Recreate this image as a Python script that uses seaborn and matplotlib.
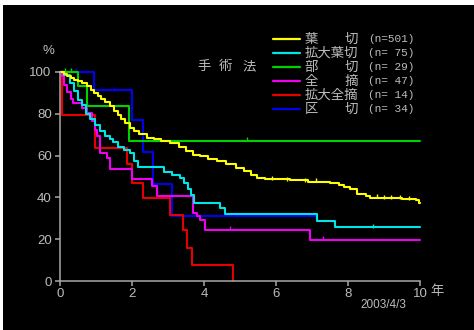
import matplotlib
matplotlib.use("Agg")
import matplotlib.pyplot as plt
import seaborn as sns
import pandas as pd
from matplotlib.lines import Line2D
from matplotlib.patches import Rectangle

# --- survival curves by operation type (years, % surviving) ---
names = ["葉　　切", "拡大葉切", "部　　切", "全　　摘", "拡大全摘", "区　　切"]
counts = [501, 75, 29, 47, 14, 34]
colors = ["#ffff00", "#00e6e6", "#00d200", "#f000f0", "#e60000", "#0000f2"]

lobe_t = [0, 0.1, 0.2, 0.3, 0.4, 0.5, 0.6, 0.74, 0.85, 0.95, 1.05, 1.15, 1.25,
          1.39, 1.5, 1.6, 1.7, 1.8, 1.94, 2.05, 2.2, 2.41, 2.6, 2.8, 3.06, 3.3,
          3.5, 3.7, 3.9, 4.1, 4.35, 4.6, 4.9, 5.1, 5.3, 5.46, 5.7, 6.4, 6.9,
          7.5, 7.75, 7.9, 8.06, 8.24, 8.5, 8.6, 9.0, 9.5, 9.9, 9.97, 10]
lobe_s = [100, 99, 98, 97, 96, 95.5, 94.5, 93.4, 91.5, 90, 88.5, 87, 85.5,
          83.8, 81.5, 79.5, 77.5, 75.5, 73.4, 72, 70.5, 68.6, 67.8, 67, 66.2, 64,
          62, 60.2, 59.8, 58.5, 57.4, 56, 54.2, 52.5, 50.5, 49.4, 48.8, 48.2, 47.5,
          47, 46, 45, 43.8, 41.5, 40.5, 39.8, 39.6, 39.2, 38.9, 37.5, 37.5]

ext_lobe_t = [0, 0.12, 0.28, 0.38, 0.51, 0.62, 0.72, 0.83, 0.97, 1.11, 1.25,
              1.38, 1.48, 1.62, 1.78, 1.94, 2.05, 2.18, 2.90, 3.10, 3.33, 3.45,
              3.55, 3.65, 3.72, 4.44, 4.58, 7.13, 7.64, 10]
ext_lobe_s = [100, 98.7, 94.7, 90.7, 86.7, 84.0, 80.0, 77.3, 74.7, 72.0, 69.3,
              68.0, 66.7, 64.0, 62.7, 61.3, 57.3, 54.7, 52.0, 50.7, 49.3, 46.7,
              44.0, 41.3, 37.3, 34.9, 32.0, 28.5, 25.6, 25.6]

partial_t = [0, 0.51, 0.74, 1.93, 10]
partial_s = [100, 93.1, 83.8, 67.2, 67.2]

pneum_t = [0, 0.05, 0.12, 0.19, 0.30, 0.37, 0.60, 0.74, 0.88, 0.96, 1.02, 1.11,
           1.30, 1.39, 1.99, 2.55, 2.69, 3.70, 3.80, 3.89, 4.03, 6.94, 10]
pneum_s = [100, 97.9, 93.6, 90.2, 87.2, 85.1, 83.0, 80.6, 76.6, 72.3, 69.4, 61.4,
           59.0, 53.8, 48.6, 45.3, 40.5, 32.5, 31.0, 29.3, 24.5, 19.7, 19.7]

ext_pneum_t = [0, 0.05, 0.97, 1.85, 2.00, 2.31, 3.06, 3.43, 3.52, 3.66, 4.81]
ext_pneum_s = [100, 79.3, 63.8, 55.8, 47.0, 39.8, 31.7, 24.5, 15.7, 7.7, 0]

segment_t = [0, 0.94, 1.99, 2.31, 2.57, 3.10, 7.13]
segment_s = [100, 91.2, 76.8, 61.8, 46.3, 31.0, 31.0]

# censored observations
cens = {
    0: ([5.9, 6.3, 6.8, 7.1, 8.8, 9.0, 9.2, 9.45, 9.7], [48.6, 48.2, 47.5, 47.5, 39.8, 39.6, 39.6, 39.2, 38.9]),
    1: ([8.7], [25.6]),
    2: ([0.15, 0.3, 5.2], [100, 100, 67.2]),
    3: ([4.72, 7.3], [24.5, 19.7]),
    5: ([0.3, 0.45, 1.5], [100, 100, 91.2]),
}

series_t = [lobe_t, ext_lobe_t, partial_t, pneum_t, ext_pneum_t, segment_t]
series_s = [lobe_s, ext_lobe_s, partial_s, pneum_s, ext_pneum_s, segment_s]

y_ticks = [0, 20, 40, 60, 80, 100]
x_ticks = [0, 2, 4, 6, 8, 10]

sns.set_theme(style="ticks")
plt.rcParams["font.family"] = ["Liberation Sans", "Noto Sans CJK JP", "DejaVu Sans"]

W, H = 474, 330
fig = plt.figure(figsize=(W / 100, H / 100), dpi=100, facecolor="white")


def fx(px):
    return px / W


def fy(py):
    return 1 - py / H


fig.add_artist(Rectangle((fx(3), 0), 1 - fx(3), fy(5), transform=fig.transFigure,
                         facecolor="black", edgecolor="none", zorder=-10))

ax = fig.add_axes([fx(60), fy(281), fx(420) - fx(60), fy(72) - fy(281)])
ax.set_facecolor("none")

axis_col = "#a8a8a8"
text_col = "#bcbcbc"

for i in [5, 4, 3, 2, 1, 0]:
    df = pd.DataFrame({"t": series_t[i], "s": series_s[i]})
    sns.lineplot(data=df, x="t", y="s", color=colors[i], drawstyle="steps-post",
                 estimator=None, sort=False, lw=1.5, clip_on=False, ax=ax)
    if i in cens:
        ct, cs = cens[i]
        ax.plot(ct, [v + 0.8 for v in cs], linestyle="none", marker="|",
                markersize=3, mew=1.0, color=colors[i], clip_on=False)

ax.set_xlim(0, 10)
ax.set_ylim(0, 100)
ax.set_xticks(x_ticks)
ax.set_yticks(y_ticks)
ax.set_xlabel("")
ax.set_ylabel("")
for side in ["top", "right"]:
    ax.spines[side].set_visible(False)
for side in ["left", "bottom"]:
    ax.spines[side].set_color(axis_col)
    ax.spines[side].set_linewidth(1.1)
ax.tick_params(axis="both", colors=axis_col, width=1.1, length=3.5,
               labelcolor=text_col, labelsize=9.5)
ax.tick_params(axis="x", pad=1.5)
ax.tick_params(axis="y", pad=2.5)

cjk = ["Noto Sans CJK JP", "DejaVu Sans"]

fig.text(fx(48), fy(51), "%", color=text_col, fontsize=9.5, ha="center", va="center")
fig.text(fx(430), fy(291), "年", color=text_col, fontsize=9.6, ha="left", va="center",
         family=cjk)
fig.text(fx(406), fy(305), "2003/4/3", color=text_col, fontsize=8.5, ha="right",
         va="center")
for ch, cx in zip("手術法", [204, 225, 249]):
    fig.text(fx(cx), fy(66), ch, color=text_col, fontsize=9.6, ha="center",
             va="center", family=cjk)

# key
row_y = [39, 53, 67, 81, 95, 109]
for i in range(6):
    y = fy(row_y[i])
    fig.add_artist(Line2D([fx(273), fx(300)], [y, y], color=colors[i], lw=1.6,
                          transform=fig.transFigure))
    fig.text(fx(305), y, names[i], color=text_col, fontsize=9.6, ha="left",
             va="center", family=cjk)
    fig.text(fx(368), y, f"(n={counts[i]:>3d})", color=text_col, fontsize=8.0,
             ha="left", va="center", family=["Liberation Mono"])

fig.savefig("out.png", dpi=100, facecolor="white")
